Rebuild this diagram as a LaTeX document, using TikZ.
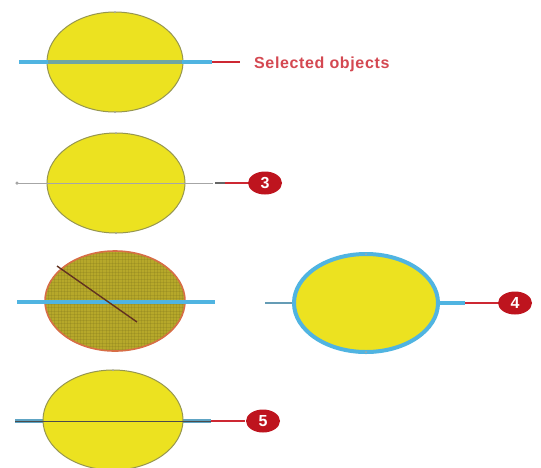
\documentclass[tikz,border=0pt]{standalone}
\usepackage{fontspec}
\setmainfont{Liberation Sans}
\newfontfamily\labfont[LetterSpace=4]{Liberation Sans}
\usetikzlibrary{shapes.geometric}
\definecolor{ylw}{RGB}{236,226,32}
\definecolor{olv}{RGB}{150,150,80}
\definecolor{blu}{RGB}{80,180,225}
\definecolor{rd}{RGB}{205,40,50}
\definecolor{bdg}{RGB}{190,20,30}
\definecolor{mud}{RGB}{182,168,42}
\definecolor{mudb}{RGB}{215,110,70}
\tikzset{
  x=1pt,y=-1pt,
  ylwell/.style={fill=ylw,draw=olv,line width=1pt},
  bluline/.style={draw=blu,line width=3.5pt},
  thinline/.style={draw=gray!70,line width=0.7pt},
  redline/.style={draw=rd,line width=1.8pt},
  badge/.style={ellipse,fill=bdg,minimum width=34pt,minimum height=23pt,inner sep=0pt,text=white,font=\bfseries\fontsize{16}{16}\selectfont},
  tick/.style={fill=gray!70,inner sep=0pt,minimum size=2pt,circle},
}
\begin{document}
\begin{tikzpicture}
\useasboundingbox (0,0) rectangle (541,467);
\fill[white] (0,0) rectangle (541,467);
% ---- 1
\coordinate (a1) at (19,62);
\coordinate (b1) at (212,62);
\coordinate (c1) at (240,62);
\draw[ylwell] (115,62) ellipse [x radius=68,y radius=50];
\draw[bluline] (a1) -- (b1);
\draw[draw=olv!45!blu,line width=3.5pt] (48,62) -- (182,62);
\draw[redline] (b1) -- (c1);
\node[anchor=west,text=rd!85!white,font=\labfont\bfseries\fontsize{16}{16}\selectfont,inner sep=0pt] (sel) at (254,64) {Selected objects};
\node[tick] at (115,12) {};
\node[tick] at (115,112) {};
% ---- 2
\coordinate (a2) at (17,183);
\coordinate (b2) at (213,183);
\coordinate (c2) at (250,183);
\draw[ylwell] (116,183) ellipse [x radius=69,y radius=50];
\draw[thinline] (a2) -- (b2);
\node[tick,minimum size=3.5pt] at (a2) {};
\draw[draw=gray!80!black,line width=1.6pt] (215,183) -- (225,183);
\draw[redline] (225,183) -- (c2);
\node[badge] (n3) at (265,183) {3};
\node[tick] at (116,133) {};
\node[tick] at (116,233) {};
% ---- 3
\fill[mud] (115,301) ellipse [x radius=70,y radius=50];
\begin{scope}
\clip (115,301) ellipse [x radius=70,y radius=50];
\foreach \i in {0,3.2,...,141} {\draw[mud!60!black,opacity=0.18,line width=0.6pt] (45+\i,250) -- (45+\i,352);}
\foreach \j in {0,3.2,...,101} {\draw[mud!60!black,opacity=0.18,line width=0.6pt] (44,250+\j) -- (186,250+\j);}
\end{scope}
\draw[draw=mudb,line width=1.6pt] (115,301) ellipse [x radius=70,y radius=50];
\coordinate (a3) at (17,302);
\coordinate (b3) at (215,302);
\draw[bluline] (a3) -- (b3);
\coordinate (d1) at (57,266);
\coordinate (d2) at (137,322);
\draw[draw=black!55!mudb,line width=1.4pt] (d1) -- (d2);
% ---- 4
\coordinate (a4) at (265,303);
\coordinate (b4) at (465,303);
\coordinate (c4) at (498,303);
\draw[draw=blu!55!gray,line width=2.5pt] (a4) -- (294,303);
\draw[bluline] (438,303) -- (b4);
\draw[redline] (b4) -- (c4);
\draw[fill=ylw,draw=blu,line width=4pt] (366,303) ellipse [x radius=72,y radius=49];
\node[tick] at (366,254) {};
\node[tick] at (366,352) {};
\node[badge] (n4) at (515,303) {4};
% ---- 5
\coordinate (a5) at (15,421);
\coordinate (b5) at (211,421);
\coordinate (c5) at (245,421);
\draw[bluline,draw=blu!70!gray] (a5) -- (b5);
\draw[ylwell] (113,420) ellipse [x radius=70,y radius=50];
\draw[draw=gray!60!black,line width=0.8pt] (15,421) -- (211,421);
\draw[redline] (b5) -- (c5);
\node[badge] (n5) at (263,421) {5};
\node[tick] at (113,370) {};
\end{tikzpicture}
\end{document}
